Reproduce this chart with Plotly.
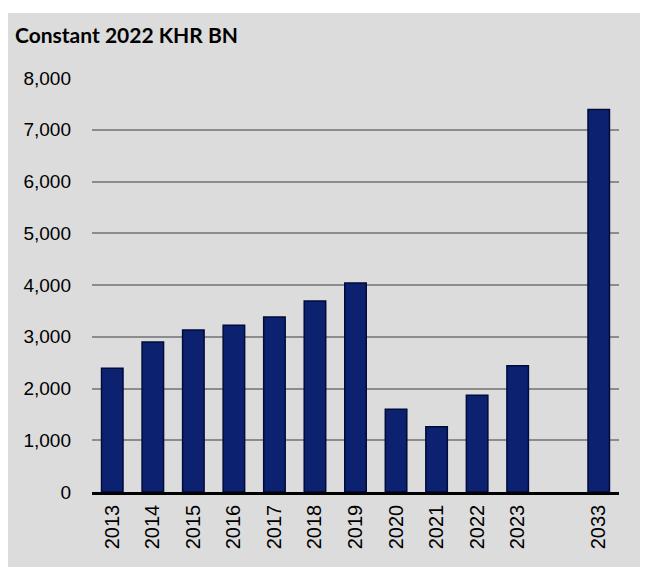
import plotly.graph_objects as go

years = ["2013", "2014", "2015", "2016", "2017", "2018", "2019", "2020", "2021", "2022", "2023", " ", "2033"]
values = [2390, 2900, 3130, 3220, 3380, 3690, 4040, 1600, 1260, 1870, 2440, None, 7390]
title_text = "Constant 2022 KHR BN"

# page has an 8px body margin; figure is laid out in its own coordinates
W, H = 644, 568
L, R, T, B = 84, 33, 70, 84
pw, ph = W - L - R, H - T - B

def px_x(p):
    return (p - L) / pw

def px_y(p):
    return (H - B - p) / ph

fig = go.Figure()
fig.add_trace(go.Bar(
    x=years, y=values,
    marker=dict(color="#0c2270", line=dict(color="#000b3a", width=1.5)),
))

fig.add_shape(type="rect", xref="paper", yref="paper",
              x0=px_x(0), x1=px_x(632), y0=px_y(559), y1=px_y(5),
              fillcolor="#dcdcdc", line=dict(width=0), layer="below")

fig.add_annotation(text="<b>" + title_text + "</b>", xref="paper", yref="paper",
                   x=px_x(5), y=px_y(27), xanchor="left", yanchor="middle",
                   showarrow=False, font=dict(family="Lato", size=21, color="#000"))

fig.update_layout(
    width=W, height=H,
    margin=dict(l=L, r=R, t=T, b=B),
    paper_bgcolor="white",
    plot_bgcolor="rgba(0,0,0,0)",
    bargap=0.47,
    showlegend=False,
    font=dict(family="Arial", size=18, color="#000"),
)
fig.update_xaxes(type="category", tickangle=-90, showline=True, linecolor="#000",
                 linewidth=2.5, ticks="", showgrid=False, ticklabelstandoff=2,
                 tickfont=dict(family="Arial", size=20))
fig.update_yaxes(range=[0, 8000], dtick=1000, tickformat=",", showgrid=True,
                 gridcolor="#8c8c8c", gridwidth=1.5, zeroline=False, showline=False,
                 ticks="", ticklabelstandoff=20, tickfont=dict(family="Arial", size=19))

fig.write_html("out.html")
